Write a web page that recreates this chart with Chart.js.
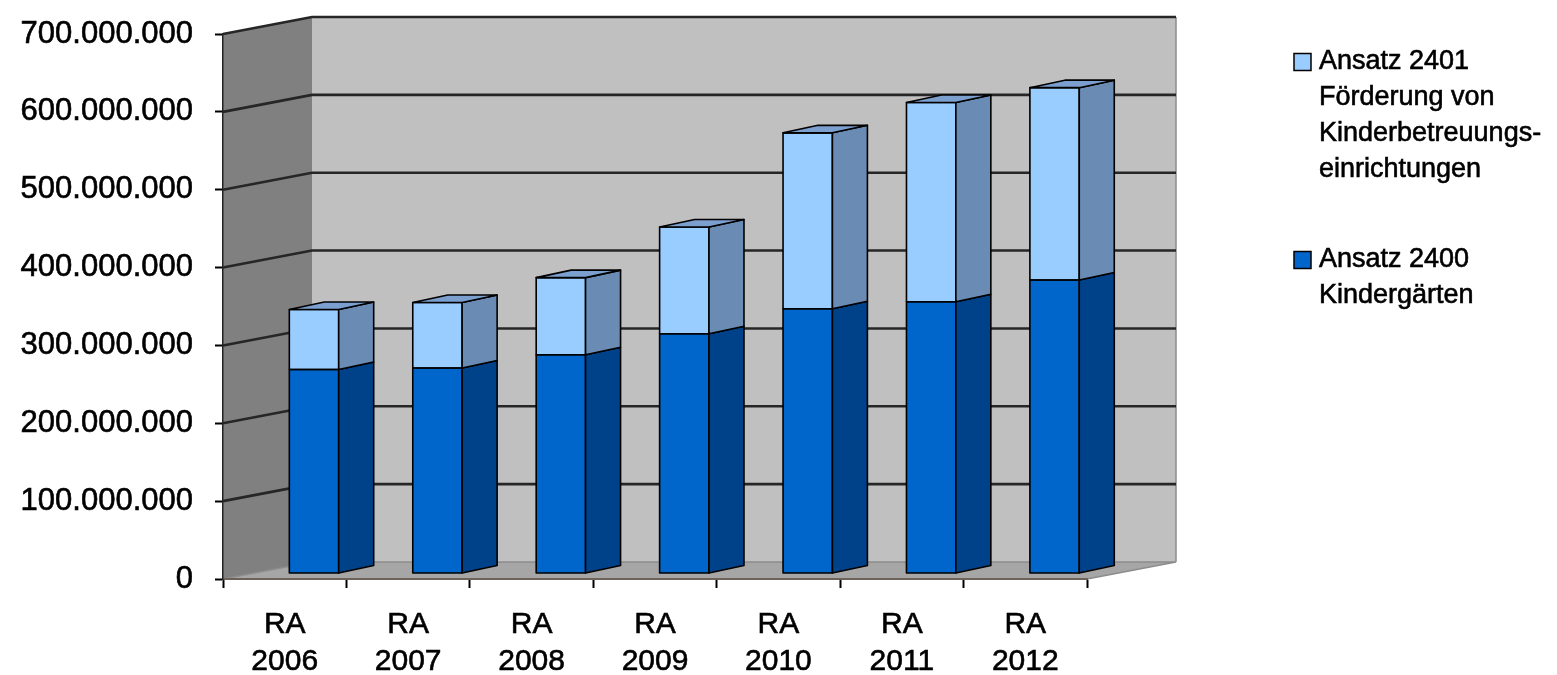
<!DOCTYPE html>
<html lang="de">
<head>
<meta charset="utf-8">
<title>Ansatz 2400 / 2401</title>
<script src="https://cdn.jsdelivr.net/npm/chart.js@4.4.1/dist/chart.umd.min.js"></script>
<style>
  html, body { margin: 0; padding: 0; background: #ffffff; }
  #wrap { width: 1557px; height: 675px; }
</style>
</head>
<body>
<div id="wrap"><canvas id="chart" width="1557" height="675"></canvas></div>
<script>
// Rechnungsabschlüsse (RA), Beträge in Euro
const categories = [['RA', '2006'], ['RA', '2007'], ['RA', '2008'], ['RA', '2009'], ['RA', '2010'], ['RA', '2011'], ['RA', '2012']];
const kindergaerten = [262e6, 264e6, 281e6, 308e6, 340e6, 349e6, 377e6];
const foerderung = [77e6, 84e6, 99e6, 137e6, 226e6, 256e6, 247e6];
const seriesNames = [
  ['Ansatz 2400', 'Kindergärten'],
  ['Ansatz 2401', 'Förderung von', 'Kinderbetreuungs-', 'einrichtungen']
];
const yMin = 0;
const yMax = 700000000;
const yStep = 100000000;

const FONT = "'Liberation Sans', Arial, Helvetica, sans-serif";

// Farben: Vorderseite, Seitenfläche, Deckfläche
const faces = [
  { front: '#0066cc', side: '#00428a', top: '#2a6fc0' },
  { front: '#99ccff', side: '#6a8bb3', top: '#7b9fcf' }
];

// Perspektive des 3D-Diagramms
const view = {
  wallDx: 89, wallDy: -17,     // Tiefe der Rückwand
  barDx: 35, barDy: -7.5,      // Tiefe einer Säule
  barOffX: 29.3, barOffY: -5.5 // Lage der Säulen-Vorderseite hinter der Frontebene
};

function formatDots(v) {
  return String(v).replace(/\B(?=(\d{3})+(?!\d))/g, '.');
}

function poly(ctx, pts, fill, stroke, lw) {
  ctx.beginPath();
  ctx.moveTo(pts[0][0], pts[0][1]);
  for (let i = 1; i < pts.length; i++) ctx.lineTo(pts[i][0], pts[i][1]);
  ctx.closePath();
  if (fill) { ctx.fillStyle = fill; ctx.fill(); }
  if (stroke) {
    ctx.lineJoin = 'round';
    ctx.strokeStyle = stroke; ctx.lineWidth = lw || 1; ctx.stroke();
  }
}

const box3d = {
  id: 'box3d',
  beforeDraw(chart) {
    const ctx = chart.ctx;
    const ys = chart.scales.y;
    const { left: L, right: R } = chart.chartArea;
    const T = ys.getPixelForValue(yMax);
    const B = ys.getPixelForValue(yMin);
    const dx = view.wallDx, dy = view.wallDy;
    ctx.save();
    ctx.fillStyle = '#ffffff';
    ctx.fillRect(0, 0, chart.width, chart.height);
    // linke Seitenwand
    poly(ctx, [[L, T], [L + dx, T + dy], [L + dx, B + dy], [L, B]], '#808080');
    // Rückwand
    poly(ctx, [[L + dx, T + dy], [R + dx, T + dy], [R + dx, B + dy], [L + dx, B + dy]], '#c0c0c0');
    // Boden
    poly(ctx, [[L, B], [R, B], [R + dx, B + dy], [L + dx, B + dy]], '#a6a6a6');
    ctx.strokeStyle = '#8c8c8c';
    ctx.lineWidth = 1.5;
    ctx.beginPath();
    ctx.moveTo(L, B); ctx.lineTo(L + dx, B + dy); ctx.lineTo(R + dx, B + dy);
    ctx.moveTo(R, B); ctx.lineTo(R + dx, B + dy);
    ctx.moveTo(R + dx, B + dy); ctx.lineTo(R + dx, T + dy);
    ctx.stroke();
    // Gitterlinien auf Seiten- und Rückwand
    ctx.strokeStyle = '#262626';
    ctx.lineWidth = 2.6;
    ctx.lineJoin = 'miter';
    ys.ticks.forEach(t => {
      if (t.value <= yMin) return;
      const y = ys.getPixelForValue(t.value);
      ctx.beginPath();
      ctx.moveTo(L, y);
      ctx.lineTo(L + dx, y + dy);
      ctx.lineTo(R + dx, y + dy);
      ctx.stroke();
    });
    ctx.restore();
  },
  beforeDatasetsDraw(chart) {
    chart.ctx.save();
    chart.ctx.translate(view.barOffX, view.barOffY);
  },
  afterDatasetsDraw(chart) {
    const ctx = chart.ctx;
    const dx = view.barDx, dy = view.barDy;
    const last = chart.data.datasets.length - 1;
    chart.data.datasets.forEach((ds, d) => {
      const meta = chart.getDatasetMeta(d);
      meta.data.forEach(bar => {
        const p = bar.getProps(['x', 'y', 'base', 'width'], true);
        const l = p.x - p.width / 2, r = p.x + p.width / 2;
        const top = Math.min(p.y, p.base), bot = Math.max(p.y, p.base);
        // Umriss der Vorderseite
        poly(ctx, [[l, top], [r, top], [r, bot], [l, bot]], null, '#000', 1.6);
        // Seitenfläche
        poly(ctx, [[r, top], [r + dx, top + dy], [r + dx, bot + dy], [r, bot]], faces[d].side, '#000', 1.6);
        // Deckfläche der obersten Reihe
        if (d === last) {
          poly(ctx, [[l, top], [l + dx, top + dy], [r + dx, top + dy], [r, top]], faces[d].top, '#000', 1.6);
        }
      });
    });
    ctx.restore();
  },
  afterDraw(chart) {
    // Legende: oberste Reihe zuerst
    const ctx = chart.ctx;
    const x0 = 1294, tx = 1319, size = 17, lh = 36, gap = 54;
    let y = 62;
    ctx.save();
    ctx.font = '27px ' + FONT;
    ctx.textBaseline = 'middle';
    ctx.textAlign = 'left';
    for (let d = chart.data.datasets.length - 1; d >= 0; d--) {
      const lines = seriesNames[d];
      ctx.fillStyle = faces[d].front;
      ctx.fillRect(x0, y - size / 2, size, size);
      ctx.strokeStyle = '#000';
      ctx.lineWidth = 1.5;
      ctx.strokeRect(x0, y - size / 2, size, size);
      ctx.fillStyle = '#000';
      ctx.lineWidth = 0.6;
      lines.forEach((ln, i) => {
        ctx.fillText(ln, tx, y + i * lh);
        ctx.strokeText(ln, tx, y + i * lh);
      });
      y += lines.length * lh + gap;
    }
    ctx.restore();
  }
};

new Chart(document.getElementById('chart'), {
  type: 'bar',
  data: {
    labels: categories,
    datasets: [
      {
        label: seriesNames[0].join(' '),
        data: kindergaerten,
        backgroundColor: faces[0].front,
        borderWidth: 0
      },
      {
        label: seriesNames[1].join(' '),
        data: foerderung,
        backgroundColor: faces[1].front,
        borderWidth: 0
      }
    ]
  },
  options: {
    responsive: false,
    devicePixelRatio: 1,
    animation: false,
    layout: { padding: { top: 34, right: 470, bottom: 0, left: 0 } },
    plugins: { legend: { display: false }, tooltip: { enabled: false } },
    datasets: { bar: { categoryPercentage: 1.0, barPercentage: 0.4 } },
    scales: {
      x: {
        stacked: true,
        afterFit(s) { s.height = 96; },
        grid: { display: true, drawOnChartArea: false, drawTicks: true, tickLength: 9, tickColor: '#000', tickWidth: 2 },
        border: { display: true, color: '#6e6258', width: 2 },
        ticks: {
          color: '#000', font: { family: FONT, size: 30, lineHeight: 1.23 }, padding: 18,
          maxRotation: 0, autoSkip: false, textStrokeColor: '#000', textStrokeWidth: 0.6
        }
      },
      y: {
        stacked: true,
        min: yMin,
        max: yMax,
        afterFit(s) { s.width = 223; s.paddingTop = 0; s.paddingBottom = 0; },
        grid: { display: true, drawOnChartArea: false, drawTicks: true, tickLength: 8, tickColor: '#000', tickWidth: 2 },
        border: { display: true, color: '#222', width: 1.5 },
        ticks: {
          stepSize: yStep,
          color: '#000',
          padding: 22,
          font: { family: FONT, size: 31 },
          textStrokeColor: '#000',
          textStrokeWidth: 0.6,
          callback: v => formatDots(v)
        }
      }
    }
  },
  plugins: [box3d]
});
</script>
</body>
</html>
